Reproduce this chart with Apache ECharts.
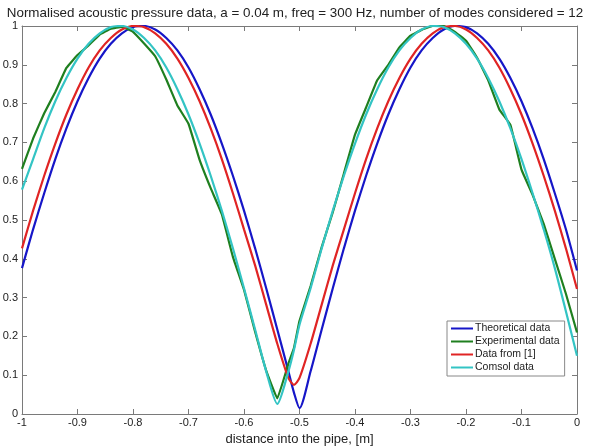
<!DOCTYPE html>
<html>
<head>
<meta charset="utf-8">
<script src="https://cdn.jsdelivr.net/npm/echarts@6/dist/echarts.min.js"></script>
<style>html,body{margin:0;padding:0;background:#fff}#c{width:590px;height:446px}</style>
</head>
<body>
<div id="c"></div>
<script>
var xs = [-1.00,-0.98,-0.96,-0.94,-0.92,-0.90,-0.88,-0.86,-0.84,-0.82,-0.80,-0.78,-0.76,-0.74,-0.72,-0.70,-0.68,-0.66,-0.64,-0.62,-0.60,-0.58,-0.56,-0.54,-0.52,-0.51,-0.50,-0.48,-0.46,-0.44,-0.42,-0.40,-0.38,-0.36,-0.34,-0.32,-0.30,-0.28,-0.26,-0.24,-0.22,-0.20,-0.18,-0.16,-0.14,-0.12,-0.10,-0.08,-0.06,-0.04,-0.02,0.00];
var theoretical = [0.376,0.476,0.569,0.657,0.736,0.806,0.866,0.916,0.954,0.981,0.997,1.000,0.991,0.969,0.937,0.893,0.837,0.772,0.697,0.614,0.524,0.427,0.324,0.218,0.110,0.055,0.015,0.110,0.218,0.324,0.427,0.524,0.614,0.697,0.772,0.837,0.893,0.937,0.969,0.991,1.000,0.997,0.981,0.954,0.916,0.866,0.806,0.736,0.657,0.569,0.476,0.370];
var experimental = [0.632,0.710,0.775,0.830,0.892,0.925,0.950,0.978,0.993,0.998,0.985,0.955,0.922,0.862,0.795,0.748,0.655,0.582,0.515,0.405,0.320,0.212,0.112,0.040,0.130,0.170,0.240,0.330,0.430,0.520,0.620,0.720,0.790,0.860,0.900,0.945,0.975,0.990,1.000,1.000,0.985,0.962,0.918,0.860,0.785,0.745,0.630,0.565,0.490,0.400,0.310,0.210];
var dataFrom1 = [0.427,0.524,0.614,0.697,0.772,0.837,0.893,0.937,0.969,0.991,1.000,0.997,0.981,0.954,0.916,0.866,0.806,0.736,0.657,0.569,0.476,0.383,0.282,0.181,0.093,0.075,0.093,0.181,0.282,0.383,0.476,0.569,0.657,0.736,0.806,0.866,0.916,0.954,0.981,0.997,1.000,0.991,0.969,0.937,0.893,0.837,0.772,0.697,0.614,0.524,0.427,0.322];
var comsol = [0.578,0.657,0.736,0.806,0.866,0.916,0.954,0.981,0.997,1.000,0.991,0.969,0.937,0.893,0.837,0.772,0.697,0.614,0.524,0.427,0.324,0.218,0.110,0.026,0.110,0.165,0.230,0.324,0.427,0.524,0.614,0.697,0.772,0.837,0.893,0.937,0.969,0.991,1.000,0.997,0.981,0.954,0.916,0.866,0.806,0.736,0.657,0.569,0.476,0.376,0.265,0.150];
var seriesNames = ['Theoretical data','Experimental data','Data from [1]','Comsol data'];
var seriesColors = ['#1616c8','#1f7f1f','#e02424','#33c4c4'];
var xTicks = [-1,-0.9,-0.8,-0.7,-0.6,-0.5,-0.4,-0.3,-0.2,-0.1,0];
var yTicks = [0,0.1,0.2,0.3,0.4,0.5,0.6,0.7,0.8,0.9,1];

function pairs(ys){ return xs.map(function(x,i){ return [x, ys[i]]; }); }
var allData = [theoretical, experimental, dataFrom1, comsol];
var smoothing = [0.25, 0.08, 0.25, 0.25];
var FONT = 'Liberation Sans, Arial, sans-serif';
var axisCol = '#7a7a7a';
var labCol = '#222';

var chart = echarts.init(document.getElementById('c'), null, {renderer:'canvas'});
var baseX = {
  type:'value', min:-1, max:0, interval:0.1,
  axisLine:{show:true, onZero:false, lineStyle:{color:axisCol, width:1}},
  axisTick:{show:true, inside:true, length:5, lineStyle:{color:axisCol}},
  splitLine:{show:false}
};
var baseY = {
  type:'value', min:0, max:1, interval:0.1,
  axisLine:{show:true, onZero:false, lineStyle:{color:axisCol, width:1}},
  axisTick:{show:true, inside:true, length:5, lineStyle:{color:axisCol}},
  splitLine:{show:false}
};
chart.setOption({
  animation:false,
  backgroundColor:'#fff',
  title:{text:'Normalised acoustic pressure data, a = 0.04 m, freq = 300 Hz, number of modes considered = 12',
    left:'center', top:2, textStyle:{fontFamily:FONT, fontSize:13.4, fontWeight:'normal', color:labCol}},
  grid:{left:22, right:13, top:26, bottom:32, containLabel:false, outerBoundsMode:'none'},
  legend:{
    data:seriesNames, orient:'vertical', left:447, top:321,
    backgroundColor:'#fff', borderColor:'#888', borderWidth:1, borderRadius:0,
    padding:[2,5,3,4], itemGap:2, itemWidth:22, itemHeight:2, icon:'rect',
    textStyle:{fontFamily:FONT, fontSize:10.5, color:labCol, padding:[0,0,0,-3]}
  },
  xAxis:[
    Object.assign({}, baseX, {position:'bottom',
      name:'distance into the pipe, [m]', nameLocation:'middle', nameGap:17,
      nameTextStyle:{fontFamily:FONT, fontSize:13, color:labCol},
      axisLabel:{fontFamily:FONT, fontSize:11, color:labCol, margin:3,
        formatter:function(v){ var t=xTicks.filter(function(k){return Math.abs(k-v)<1e-6;}); return t.length? String(t[0]) : ''; }}}),
    Object.assign({}, baseX, {position:'top', axisLabel:{show:false}})
  ],
  yAxis:[
    Object.assign({}, baseY, {position:'left',
      axisLabel:{fontFamily:FONT, fontSize:11, color:labCol, margin:4,
        formatter:function(v){ var t=yTicks.filter(function(k){return Math.abs(k-v)<1e-6;}); return t.length? String(t[0]) : ''; }}}),
    Object.assign({}, baseY, {position:'right', axisLabel:{show:false}})
  ],
  series: seriesNames.map(function(n,i){
    return {name:n, type:'line', xAxisIndex:0, yAxisIndex:0, data:pairs(allData[i]),
      showSymbol:false, symbol:'none', smooth:smoothing[i],
      lineStyle:{color:seriesColors[i], width:2.2}, itemStyle:{color:seriesColors[i]}, z:2+i};
  })
});
</script>
</body>
</html>
